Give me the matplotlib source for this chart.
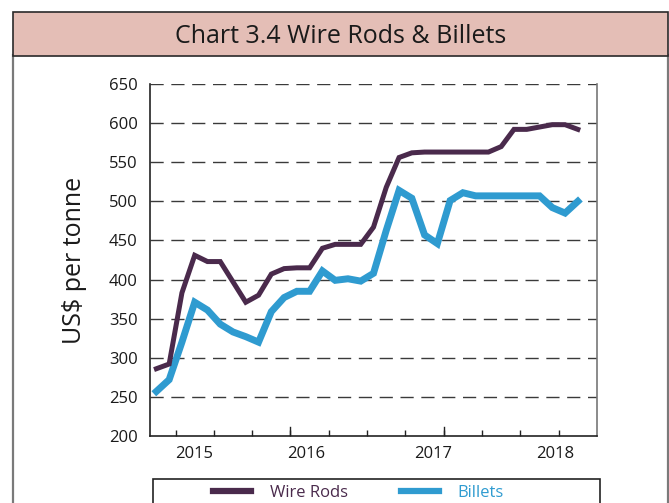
import numpy as np
import matplotlib
matplotlib.use("Agg")
import matplotlib.pyplot as plt
from matplotlib.patches import Rectangle

# ── Data (monthly) ────────────────────────────────────────────────────────────
months = np.arange(34)
wire_rods = [286, 292, 383, 431, 423, 423, 397, 371, 380, 407, 414, 415, 415,
             440, 445, 445, 445, 467, 518, 556, 562, 563, 563, 563, 563, 563,
             563, 570, 592, 592, 595, 598, 598, 592]
billets = [257, 272, 320, 371, 361, 343, 333, 327, 320, 359, 377, 385, 385,
           411, 399, 401, 398, 408, 463, 514, 504, 457, 446, 501, 511, 507,
           507, 507, 507, 507, 507, 492, 485, 500]
year_labels = ["2015", "2016", "2017", "2018"]
year_label_pos = [2.95, 11.7, 21.65, 31.2]
y_ticks = list(range(200, 651, 50))

# ── Style ─────────────────────────────────────────────────────────────────────
W, H = 669, 503
PURPLE = "#4a2a4c"
BLUE = "#2f9bd0"
PINK = "#e4beb6"
TXT = "#1a1a1a"
plt.rcParams["font.family"] = ["Open Sans", "DejaVu Sans"]

fig = plt.figure(figsize=(W / 100, H / 100), dpi=100)
fig.patch.set_facecolor("white")

def fx(px):
    return px / W

def fy(py):
    return 1 - py / H

# outer frame + title band
fig.add_artist(Rectangle((fx(12.5), fy(520)), fx(667.5) - fx(12.5), fy(55.5) - fy(520),
                         transform=fig.transFigure, fc="white", ec="#7a7a7a", lw=1.6, zorder=-3))
fig.add_artist(Rectangle((fx(12.5), fy(55.5)), fx(667.5) - fx(12.5), fy(11.5) - fy(55.5),
                         transform=fig.transFigure, fc=PINK, ec="#2a2a2a", lw=1.2, zorder=-2))
fig.text(fx(341), fy(37), "Chart 3.4 Wire Rods & Billets", ha="center", va="center",
         fontsize=18, color=TXT)

# legend frame (runs off the bottom edge)
fig.add_artist(Rectangle((fx(153), fy(520)), fx(600) - fx(153), fy(479) - fy(520),
                         transform=fig.transFigure, fc="white", ec="#222222", lw=1.2, zorder=-1))

# ── Axes ──────────────────────────────────────────────────────────────────────
ax = fig.add_axes([fx(150), fy(436), fx(597) - fx(150), fy(84) - fy(436)])
ax.set_xlim(-0.5, 34.5)
ax.set_ylim(200, 650)

for v in y_ticks[1:]:
    ax.axhline(v, color="#3a3a3a", lw=1.0, dashes=(9.5, 5.5), zorder=1)

ax.plot(months, wire_rods, color=PURPLE, lw=3.6, solid_joinstyle="miter",
        label="Wire Rods", zorder=3)
ax.plot(months, billets, color=BLUE, lw=5.0, solid_joinstyle="miter",
        label="Billets", zorder=2)

ax.spines["top"].set_visible(False)
ax.spines["left"].set_color("#222222")
ax.spines["bottom"].set_color("#222222")
ax.spines["right"].set_color("#777777")
for s in ax.spines.values():
    s.set_linewidth(1.2)

ax.set_yticks(y_ticks)
ax.tick_params(axis="y", length=0, pad=9, labelsize=12, labelcolor=TXT)

ax.set_xticks(year_label_pos)
ax.set_xticklabels(year_labels)
ax.tick_params(axis="x", which="major", length=0, pad=7, labelsize=12, labelcolor=TXT)
ax.set_xticks(np.arange(1.5, 33, 3), minor=True)
ax.tick_params(axis="x", which="minor", direction="in", length=4, width=1.0, color="#222222")
for xv in (10.5, 22.5):
    ax.axvline(xv, ymin=0, ymax=9 / 352, color="#222222", lw=1.0)

ax.set_ylabel("US$ per tonne", fontsize=18, color=TXT)
ax.yaxis.set_label_coords(-0.142, 0.5)

# ── Legend ────────────────────────────────────────────────────────────────────
leg = ax.legend(loc="center left", bbox_to_anchor=(fx(213), fy(493)),
                bbox_transform=fig.transFigure, ncol=2, frameon=False, fontsize=12,
                handlelength=2.3, handletextpad=1.1, columnspacing=3.2, borderpad=0,
                borderaxespad=0, labelcolor="linecolor")
for h in leg.legend_handles:
    h.set_linewidth(4.5)

fig.savefig("out.png", dpi=100)
